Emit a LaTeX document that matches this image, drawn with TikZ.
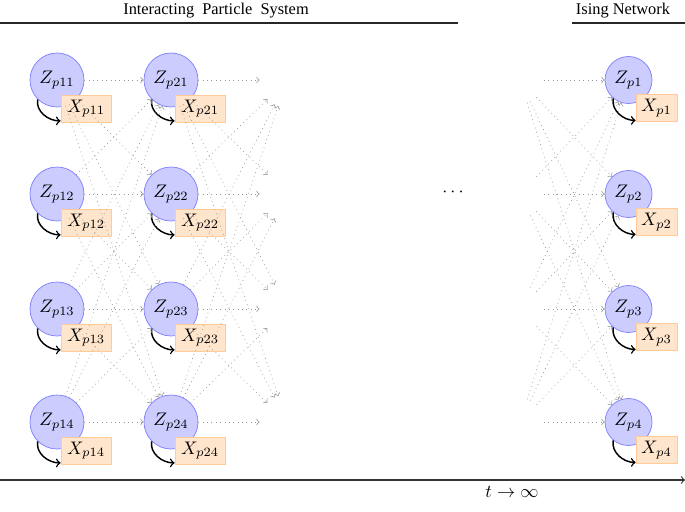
\documentclass[tikz,border=0pt]{standalone}
\usepackage{fontspec}
\newfontfamily\tms{Liberation Serif}
\begin{document}
\begin{tikzpicture}[x=0.55pt,y=-0.55pt,
  zn/.style={circle,draw=blue!50,fill=blue!20,minimum size=29.7pt,inner sep=0pt},
  zns/.style={zn,minimum size=25.85pt},
  xn/.style={rectangle,draw=orange!40,fill=orange!20,minimum width=27.5pt,minimum height=14.85pt,inner sep=1pt},
  xns/.style={xn,minimum width=22.55pt},
  vn/.style={circle,minimum size=29.7pt,inner sep=0pt},
  vns/.style={circle,minimum size=25.85pt,inner sep=0pt},
  link/.style={draw=gray!80,dotted,->},
  loopar/.style={->,thick,black},
  rule/.style={draw=black!85,line width=0.6pt},
  ttl/.style={font=\tms\fontsize{9}{10}\selectfont,inner sep=0pt}]
\useasboundingbox (0,0) rectangle (685,511);

% titles
\node[ttl] (t1) at (216,11) {Interacting\ \ Particle\ \ System};
\node[ttl] (t2) at (623,11) {Ising Network};
\coordinate (r1a) at (0,23);
\coordinate (r1b) at (458,23);
\coordinate (r2a) at (572,23);
\coordinate (r2b) at (685,23);
\draw[rule] (r1a) -- (r1b);
\draw[rule] (r2a) -- (r2b);

% nodes
\foreach \j/\y in {1/80,2/194,3/309,4/422} {
  \node[zn] (Z1\j) at (57,\y) {$Z_{p1\j}$};
  \node[xn] (X1\j) at (86,\y+28.5) {$X_{p1\j}$};
  \node[zn] (Z2\j) at (171,\y) {$Z_{p2\j}$};
  \node[xn] (X2\j) at (200,\y+28.5) {$X_{p2\j}$};
  \node[vn] (V3\j) at (287,\y) {};
  \node[vns] (VR\j) at (520,\y) {};
  \node[zns] (ZR\j) at (628.5,\y) {$Z_{p\j}$};
  \node[xns] (XR\j) at (656.5,\y+28) {$X_{p\j}$};
}

% self loops
\foreach \j in {1,...,4} {
  \draw[loopar] (Z1\j.225) to[out=-100,in=180] ([yshift=0.8pt]X1\j.south west);
  \draw[loopar] (Z2\j.225) to[out=-100,in=180] ([yshift=0.8pt]X2\j.south west);
  \draw[loopar] (ZR\j.230) to[out=-100,in=180] ([yshift=0.8pt]XR\j.south west);
}

% links
\foreach \j in {1,...,4} {
  \foreach \k in {1,...,4} {
    \draw[link] (Z1\j) -- (Z2\k);
    \draw[link] (Z2\j) -- (V3\k);
    \draw[link] (VR\j) -- (ZR\k);
  }
}

% dots
\node (dots) at (453,192) {$\cdots$};

% time axis
\coordinate (ax0) at (0,480);
\coordinate (ax1) at (685,480);
\draw[draw=black!80,line width=0.6pt,->] (ax0) -- (ax1);
\node (tlab) at (512,492) {$t \rightarrow \infty$};
\end{tikzpicture}
\end{document}
